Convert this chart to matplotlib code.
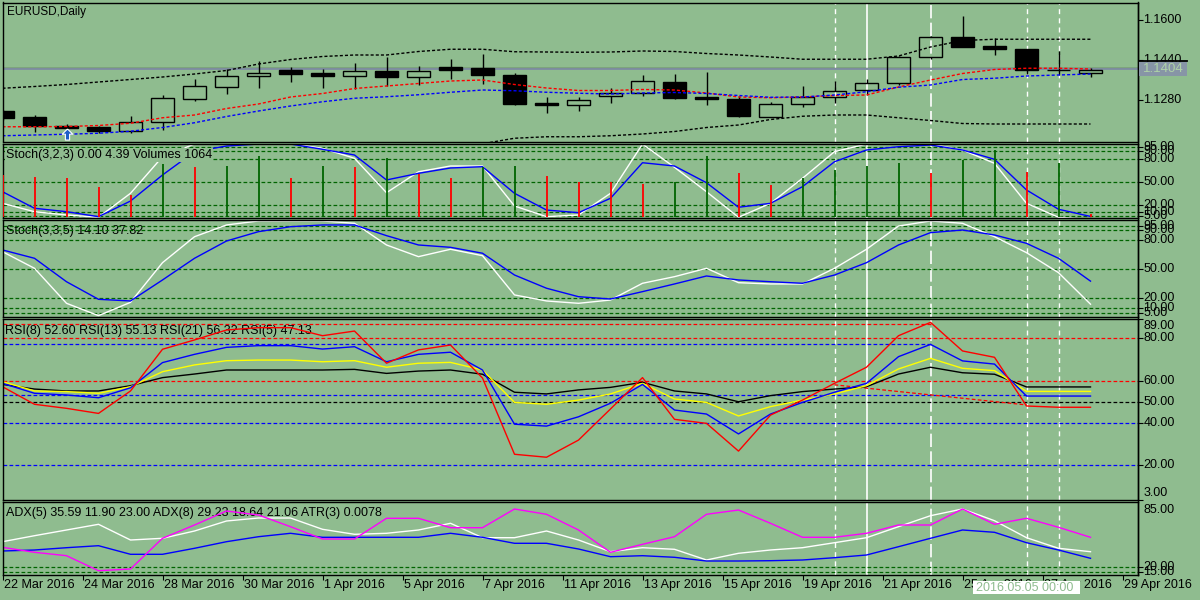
import numpy as np
import matplotlib
matplotlib.use("Agg")
import matplotlib.pyplot as plt
from matplotlib.patches import Rectangle
from matplotlib.lines import Line2D
from matplotlib.path import Path

plt.rcParams['font.family'] = ['Liberation Sans', 'DejaVu Sans']

# ---------------- data ----------------
opens = [1.1236, 1.1212, 1.1176, 1.1171, 1.1157, 1.1191, 1.1283, 1.1331, 1.1375, 1.1400,
         1.1389, 1.1377, 1.1396, 1.1371, 1.1412, 1.1407, 1.1380, 1.1268, 1.1261, 1.1296,
         1.1309, 1.1352, 1.1292, 1.1284, 1.1211, 1.1263, 1.1291, 1.1319, 1.1347, 1.1453,
         1.1531, 1.1496, 1.1483, 1.1401, 1.1389]
highs = [1.1240, 1.1220, 1.1184, 1.1176, 1.1216, 1.1300, 1.1364, 1.1404, 1.1436, 1.1413,
         1.1404, 1.1429, 1.1453, 1.1416, 1.1443, 1.1464, 1.1389, 1.1291, 1.1293, 1.1327,
         1.1380, 1.1384, 1.1393, 1.1297, 1.1273, 1.1336, 1.1357, 1.1365, 1.1456, 1.1536,
         1.1617, 1.1527, 1.1484, 1.1476, 1.1409]
lows = [1.1200, 1.1153, 1.1160, 1.1147, 1.1147, 1.1160, 1.1277, 1.1304, 1.1329, 1.1353,
        1.1329, 1.1323, 1.1336, 1.1340, 1.1365, 1.1343, 1.1260, 1.1227, 1.1237, 1.1267,
        1.1296, 1.1284, 1.1260, 1.1211, 1.1210, 1.1251, 1.1267, 1.1300, 1.1340, 1.1443,
        1.1492, 1.1460, 1.1384, 1.1380, 1.1373]
closes = [1.1209, 1.1176, 1.1167, 1.1157, 1.1191, 1.1287, 1.1335, 1.1375, 1.1387, 1.1385,
          1.1377, 1.1396, 1.1373, 1.1396, 1.1401, 1.1381, 1.1265, 1.1261, 1.1280, 1.1307,
          1.1356, 1.1289, 1.1283, 1.1217, 1.1263, 1.1292, 1.1316, 1.1347, 1.1451, 1.1531,
          1.1493, 1.1485, 1.1400, 1.1400, 1.1401]
ma_red = [1.1173, 1.1173, 1.1174, 1.1178, 1.1187, 1.1209, 1.1220, 1.1246, 1.1264, 1.1292,
          1.1306, 1.1326, 1.1336, 1.1346, 1.1356, 1.1360, 1.1342, 1.1328, 1.1318, 1.1318,
          1.1322, 1.1320, 1.1308, 1.1292, 1.1289, 1.1292, 1.1298, 1.1300, 1.1332, 1.1360,
          1.1386, 1.1402, 1.1407, 1.1407, 1.1404]
ma_blue = [1.1137, 1.1140, 1.1143, 1.1147, 1.1155, 1.1170, 1.1189, 1.1214, 1.1236, 1.1256,
           1.1273, 1.1287, 1.1293, 1.1301, 1.1311, 1.1320, 1.1317, 1.1311, 1.1307, 1.1304,
           1.1308, 1.1310, 1.1306, 1.1298, 1.1291, 1.1292, 1.1300, 1.1313, 1.1331, 1.1340,
           1.1362, 1.1367, 1.1376, 1.1380, 1.1384]
band_upper = [1.1327, 1.1334, 1.1342, 1.1352, 1.1362, 1.1372, 1.1384, 1.1398, 1.1424, 1.1442,
              1.1454, 1.1460, 1.1460, 1.1474, 1.1483, 1.1483, 1.1473, 1.1472, 1.1471, 1.1472,
              1.1476, 1.1474, 1.1466, 1.1460, 1.1452, 1.1443, 1.1443, 1.1443, 1.1456, 1.1492,
              1.1518, 1.1523, 1.1523, 1.1523, 1.1523]
band_lower = [1.1020, 1.1020, 1.1024, 1.1032, 1.1040, 1.1048, 1.1056, 1.1072, 1.1080, 1.1088,
              1.1092, 1.1096, 1.1100, 1.1104, 1.1108, 1.1105, 1.1127, 1.1133, 1.1133, 1.1137,
              1.1144, 1.1154, 1.1170, 1.1180, 1.1202, 1.1215, 1.1220, 1.1220, 1.1209, 1.1198,
              1.1186, 1.1184, 1.1184, 1.1184, 1.1184]
volumes = [13000, 12220, 11920, 9181, 6840, 16173, 15261, 15656, 18696, 11917,
           15656, 15261, 17997, 13133, 11917, 15443, 15504, 12707, 10883, 10792,
           10184, 10883, 18696, 13619, 9880, 11917, 14440, 15656, 16659, 13437,
           17480, 20520, 13923, 16659, 1064]
stoch1_main = [21.6, 10.6, 6.3, 3.3, 34.7, 82.7, 99.3, 100, 100, 100,
               93.7, 80.6, 35.5, 63.0, 70.5, 70.5, 18.1, 4.1, 6.3, 34.7,
               99.3, 68.8, 36.8, 3.3, 21.6, 54.4, 89.3, 99.3, 100, 99.3,
               91.5, 74.0, 21.6, 3.3, 0.0]
stoch1_signal = [36.8, 15.1, 10.6, 4.1, 24.6, 58.7, 89.3, 96.7, 99.3, 99.3,
                 92.4, 84.9, 52.2, 60.9, 67.9, 69.6, 34.7, 12.8, 9.3, 28.2,
                 74.8, 70.5, 48.6, 16.4, 21.6, 43.4, 76.1, 91.5, 95.8, 98.0,
                 91.5, 79.3, 39.1, 13.8, 4.39]
stoch2_main = [68.1, 51.0, 15.0, 2.3, 16.0, 56.8, 83.5, 95.6, 99.7, 99.7,
               99.7, 97.3, 75.0, 63.0, 70.6, 64.0, 23.6, 17.4, 15.0, 18.4,
               35.6, 42.4, 51.0, 36.2, 34.9, 34.9, 51.0, 70.6, 94.5, 99.7,
               97.3, 83.5, 67.1, 46.5, 14.1]
stoch2_signal = [69.9, 61.3, 37.2, 19.1, 17.4, 39.0, 61.3, 79.1, 88.7, 93.8,
                 95.6, 95.6, 84.6, 75.0, 72.6, 66.5, 44.1, 30.5, 21.8, 19.4,
                 27.0, 34.9, 43.1, 39.0, 37.2, 35.6, 44.1, 56.8, 75.0, 87.7,
                 90.4, 85.3, 76.7, 61.3, 37.8]
rsi5 = [57.1, 48.8, 46.9, 44.5, 55.1, 74.8, 79.2, 83.9, 85.0, 85.0,
        81.2, 83.4, 68.2, 74.5, 76.8, 61.2, 25.2, 23.8, 31.9, 46.6,
        61.4, 41.7, 39.8, 26.7, 43.7, 50.8, 58.7, 66.3, 81.2, 87.5,
        74.0, 71.0, 48.0, 47.4, 47.4]
rsi8 = [58.7, 54.0, 53.2, 51.9, 56.6, 68.5, 72.4, 75.7, 76.5, 76.5,
        74.9, 76.0, 68.9, 72.4, 73.4, 65.0, 39.4, 38.5, 42.9, 49.3,
        58.2, 46.1, 44.2, 34.8, 44.2, 49.7, 54.5, 58.7, 71.3, 77.1,
        69.3, 67.8, 52.7, 52.7, 52.7]
rsi13 = [59.5, 55.1, 54.8, 54.0, 57.1, 64.2, 67.4, 69.4, 69.7, 69.7,
         68.9, 69.4, 66.3, 68.2, 68.6, 65.0, 49.7, 48.8, 50.8, 53.7,
         58.7, 51.3, 49.7, 43.3, 47.7, 50.8, 53.7, 57.6, 65.5, 70.5,
         65.8, 64.7, 54.9, 54.9, 54.9]
rsi21 = [58.2, 56.0, 55.1, 55.1, 57.6, 61.4, 63.1, 65.0, 65.0, 65.0,
         65.0, 65.3, 63.4, 64.5, 65.0, 63.0, 54.5, 53.7, 55.6, 56.8,
         59.2, 55.1, 53.7, 50.0, 52.9, 54.8, 56.0, 57.1, 63.1, 66.3,
         63.7, 63.0, 57.0, 57.0, 57.0]
adx_magenta = [40.0, 35.0, 31.6, 16.6, 18.3, 49.0, 62.3, 76.3, 72.3, 60.6,
               48.3, 48.3, 69.0, 69.0, 59.6, 59.6, 78.3, 73.0, 57.3, 35.0,
               43.0, 50.6, 73.0, 77.3, 64.0, 50.0, 50.0, 54.0, 62.3, 62.3,
               78.3, 63.0, 69.0, 60.0, 50.0]
adx_white = [45.6, 51.6, 57.3, 63.0, 47.3, 49.0, 56.3, 66.3, 69.3, 69.3,
             58.0, 53.0, 54.0, 57.3, 64.0, 49.6, 49.6, 56.3, 47.3, 35.6,
             39.6, 38.0, 27.3, 34.0, 37.3, 39.6, 44.6, 49.6, 60.6, 71.6,
             78.3, 66.6, 49.6, 39.0, 35.6]
adx_blue = [36.3, 37.3, 39.6, 41.6, 33.0, 33.0, 39.0, 45.6, 50.6, 54.0,
            50.0, 50.0, 50.0, 50.0, 54.0, 50.0, 44.0, 44.0, 38.3, 30.6,
            31.6, 30.0, 26.3, 26.3, 26.6, 27.3, 29.6, 32.3, 40.6, 49.0,
            57.3, 55.0, 44.6, 37.3, 29.0]

date_labels = ["22 Mar 2016", "24 Mar 2016", "28 Mar 2016", "30 Mar 2016", "1 Apr 2016",
               "5 Apr 2016", "7 Apr 2016", "11 Apr 2016", "13 Apr 2016", "15 Apr 2016",
               "19 Apr 2016", "21 Apr 2016", "25 Apr 2016", "27 Apr 2016", "29 Apr 2016"]
price_ticks = [1.1600, 1.1440, 1.1280]
price_tick_labels = ["1.1600", "1.1440", "1.1280"]
bid_price = 1.1404
bid_label = "1.1404"
hline_price = 1.1407
stoch_levels = [95, 90, 80, 50, 20, 10, 5]
rsi_levels_red = [80, 60]
rsi_levels_black = [50]
rsi_levels_blue = [40, 20]
rsi_axis_labels = [89, 80, 60, 50, 40, 20, 3]
rsi_top_red_level = 86.7
rsi_top_blue_level = 77.3
rsi_top_levels_end_bar = 29
rsi_blue_trend = ([0, 32], [53.0, 53.0])
rsi_red_trend = ([26, 32], [58.0, 48.5])
adx_levels = [20, 15]
adx_axis_labels = [85, 20, 15]
arrow_bar, arrow_price = 2, 1.1144
vline_dashed = [26, 32, 33]
vline_solid = [27]
vline_longdash = [29]
crosshair_bar = 32
crosshair_label = "2016.05.05 00:00"

title_main = "EURUSD,Daily"
title_stoch1 = "Stoch(3,2,3) 0.00 4.39 Volumes 1064"
title_stoch2 = "Stoch(3,3,5) 14.10 37.82"
title_rsi = "RSI(8) 52.60 RSI(13) 55.13 RSI(21) 56.32 RSI(5) 47.13"
title_adx = "ADX(5) 35.59 11.90 23.00 ADX(8) 29.23 18.64 21.06 ATR(3) 0.0078"

# ---------------- layout ----------------
W, H, DPI = 1200, 600, 100
BG = '#8FBC8F'
FS = 9
fig = plt.figure(figsize=(W / DPI, H / DPI), dpi=DPI, facecolor=BG)
XL, XR = 2.5, 1137.7
BAR_PX = 32.0
n = len(opens)
xs = np.arange(n)


def panel(top, bottom, ylim):
    ax = fig.add_axes([XL / W, 1 - bottom / H, (XR - XL) / W, (bottom - top) / H])
    ax.set_facecolor(BG)
    ax.set_xlim(0, (XR - XL) / BAR_PX)
    ax.set_ylim(*ylim)
    ax.set_xticks([])
    ax.set_yticks([])
    for s in ax.spines.values():
        s.set_color('black')
        s.set_linewidth(1.0)
        s.set_zorder(10)
    return ax


def obj_vlines(ax):
    for b in vline_dashed:
        ax.axvline(b, color='white', lw=1.0, ls=(0, (3.6, 3.0)), zorder=1)
    for b in vline_solid:
        ax.axvline(b, color='white', lw=1.2, zorder=1)
    for b in vline_longdash:
        ax.axvline(b, color='white', lw=1.2, ls=(0, (8.0, 2.6)), zorder=1)


def hlevel(ax, v, color):
    ax.axhline(v, color=color, lw=0.9, ls=(0, (3.0, 1.8)), zorder=1.2)


def rlabel(ax, v, s, va='center', dy=0, tick=True):
    tr = ax.get_yaxis_transform()
    ax.annotate(s, xy=(1, v), xycoords=tr, xytext=(5.5, dy), textcoords='offset pixels',
                ha='left', va=va, fontsize=FS, color='black', annotation_clip=False)
    if tick:
        ax.plot([1, 1 + 5 / (XR - XL)], [v, v], transform=tr, color='black', lw=0.8,
                clip_on=False, solid_capstyle='butt')


def ptext(ax, xpx, ypx, s, **kw):
    ax.text(xpx / W, 1 - ypx / H, s, transform=fig.transFigure, fontsize=FS,
            va='center', ha='left', color='black', **kw)


# ---------------- main price panel ----------------
main = panel(2.5, 141.5, (1.1114, 1.1670))
obj_vlines(main)
main.axhline(hline_price, color='black', lw=0.9, zorder=1.5)
main.axhline(bid_price, color='#8090A2', lw=1.4, zorder=1.5)
bw = 0.72
for i in range(n):
    o, h, l, c = opens[i], highs[i], lows[i], closes[i]
    top, bot = max(o, c), min(o, c)
    main.vlines(i, top, h, color='black', lw=1.0, zorder=3)
    main.vlines(i, l, bot, color='black', lw=1.0, zorder=3)
    bull = c > o
    main.add_patch(Rectangle((i - bw / 2, bot), bw, max(top - bot, 0.00003),
                             facecolor='none' if bull else 'black', edgecolor='black',
                             lw=1.0, zorder=3))
main.plot(xs, band_upper, color='black', lw=1.0, ls=(0, (2.2, 1.5)), zorder=4)
main.plot(xs, band_lower, color='black', lw=1.0, ls=(0, (2.2, 1.5)), zorder=4)
main.plot(xs, ma_red, color='#FF0000', lw=1.0, ls=(0, (2.2, 1.5)), zorder=4)
main.plot(xs, ma_blue, color='#0000FF', lw=1.0, ls=(0, (2.2, 1.5)), zorder=4)
arrow_path = Path([(0, 1), (0.95, 0.05), (0.38, 0.05), (0.38, -1), (-0.38, -1),
                   (-0.38, 0.05), (-0.95, 0.05), (0, 1)])
main.plot([arrow_bar], [arrow_price], marker=arrow_path, ms=8, mfc='#1F5FC8', mec='white',
          mew=0.8, zorder=5)
for v, s in zip(price_ticks, price_tick_labels):
    rlabel(main, v, s)
ptext(main, 7, 11.7, title_main, zorder=6)
main.texts[-1].set_fontsize(8.5)

# ---------------- stochastic 1 + volumes ----------------
st1 = panel(143.5, 217.5, (3, 100))
obj_vlines(st1)
for v in stoch_levels:
    hlevel(st1, v, '#006400')
st1.plot(xs, stoch1_main, color='white', lw=1.0, zorder=3)
st1.plot(xs, stoch1_signal, color='#0000FF', lw=1.0, zorder=3)
vol = st1.twinx()
vol.set_ylim(0, 74 * 304)
vol.set_yticks([])
for s in vol.spines.values():
    s.set_visible(False)
vcols = ['#FF0000'] + ['#006400' if volumes[i] > volumes[i - 1] else '#FF0000'
                       for i in range(1, n)]
vol.vlines(xs, 0, volumes, colors=vcols, lw=1.3, zorder=2)
for v in stoch_levels:
    rlabel(st1, v, f"{v:.2f}")
fig.text(6 / W, 1 - 155 / H, title_stoch1, fontsize=FS, va='center', ha='left', color='black',
         bbox=dict(facecolor=BG, edgecolor='none', pad=0.5))

# ---------------- stochastic 2 ----------------
st2 = panel(220, 317.2, (0.7, 100.7))
obj_vlines(st2)
for v in stoch_levels:
    hlevel(st2, v, '#006400')
st2.plot(xs, stoch2_main, color='white', lw=1.0, zorder=3)
st2.plot(xs, stoch2_signal, color='#0000FF', lw=1.0, zorder=3)
for v in stoch_levels:
    rlabel(st2, v, f"{v:.2f}")
ptext(st2, 6, 231.5, title_stoch2, zorder=1)

# ---------------- RSI ----------------
rsi = panel(319.3, 500, (3.6, 88.95))
obj_vlines(rsi)
for v in rsi_levels_red:
    hlevel(rsi, v, '#FF0000')
for v in rsi_levels_black:
    hlevel(rsi, v, 'black')
for v in rsi_levels_blue:
    hlevel(rsi, v, '#0000FF')
rsi.plot([0, rsi_top_levels_end_bar], [rsi_top_red_level] * 2, color='#FF0000', lw=0.9,
         ls=(0, (3.0, 1.8)), zorder=1.2)
rsi.plot([0, rsi_top_levels_end_bar], [rsi_top_blue_level] * 2, color='#0000FF', lw=0.9,
         ls=(0, (3.0, 1.8)), zorder=1.2)
rsi.plot(rsi_blue_trend[0], rsi_blue_trend[1], color='#0000FF', lw=0.9,
         ls=(0, (3.0, 1.8)), zorder=1.2)
rsi.plot(rsi_red_trend[0], rsi_red_trend[1], color='#FF0000', lw=0.9,
         ls=(0, (3.0, 1.8)), zorder=1.2)
ptext(rsi, 5, 330.7, title_rsi, zorder=1.5)
rsi.plot(xs, rsi21, color='black', lw=1.0, zorder=3)
rsi.plot(xs, rsi13, color='#FFFF00', lw=1.0, zorder=3)
rsi.plot(xs, rsi8, color='#0000FF', lw=1.0, zorder=3)
rsi.plot(xs, rsi5, color='#FF0000', lw=1.0, zorder=3)
for v in rsi_axis_labels:
    if v == max(rsi_axis_labels):
        rlabel(rsi, 88.95, f"{v:.2f}", va='top', dy=-1)
    elif v == min(rsi_axis_labels):
        rlabel(rsi, 3.6, f"{v:.2f}", va='bottom', dy=1)
    else:
        rlabel(rsi, v, f"{v:.2f}")

# ---------------- ADX ----------------
adx = panel(502.3, 575.3, (12, 85))
obj_vlines(adx)
for v in adx_levels:
    hlevel(adx, v, '#006400')
ptext(adx, 6, 513.3, title_adx, zorder=1.5)
adx.plot(xs, adx_white, color='white', lw=1.0, zorder=3)
adx.plot(xs, adx_blue, color='#0000FF', lw=1.0, zorder=3)
adx.plot(xs, adx_magenta, color='#FF00FF', lw=1.0, zorder=3)
for v in adx_axis_labels:
    if v == max(adx_axis_labels):
        rlabel(adx, 85, f"{v:.2f}", va='top', dy=-2, tick=False)
    else:
        rlabel(adx, v, f"{v:.2f}")

# time axis
tick_pos = np.arange(len(date_labels)) * 2.5
adx.set_xticks(tick_pos)
adx.tick_params(axis='x', direction='out', length=3.6, width=0.8, color='black',
                labelbottom=False)
for p, s in zip(tick_pos, date_labels):
    adx.annotate(s, xy=(p, 0), xycoords=adx.get_xaxis_transform(), xytext=(1.5, -4),
                 textcoords='offset pixels', ha='left', va='top', fontsize=FS,
                 color='black', annotation_clip=False)

# continuous right axis line
fig.add_artist(Line2D([XR / W, XR / W], [1 - 2.5 / H, 1 - 575.3 / H], color='black', lw=1.0))

# current price box
fig.canvas.draw()
ybid = main.transData.transform((0, bid_price))[1]
fig.add_artist(Rectangle((1139.3 / W, (ybid - 7) / H), 48 / W, 14 / H, transform=fig.transFigure,
                         facecolor='#8795A6', edgecolor='none', zorder=20))
fig.add_artist(Line2D([1139.3 / W, 1187.3 / W], [(ybid + 7.6) / H] * 2, color='black', lw=1.3,
                      zorder=21))
fig.text(1143 / W, ybid / H, bid_label, fontsize=FS + 0.5, color='#AFD3A7', va='center',
         ha='left', zorder=22)

# crosshair date box
xc = adx.transData.transform((crosshair_bar, 0))[0]
fig.add_artist(Rectangle(((xc - 54) / W, 1 - 594.3 / H), 107.6 / W, 13.3 / H,
                         transform=fig.transFigure, facecolor='white', edgecolor='none',
                         zorder=20))
fig.text((xc - 50) / W, 1 - 587.8 / H, crosshair_label, fontsize=FS, color='#8FBC8F',
         va='center', ha='left', zorder=22)

fig.savefig('out.png', dpi=DPI, facecolor=BG)
